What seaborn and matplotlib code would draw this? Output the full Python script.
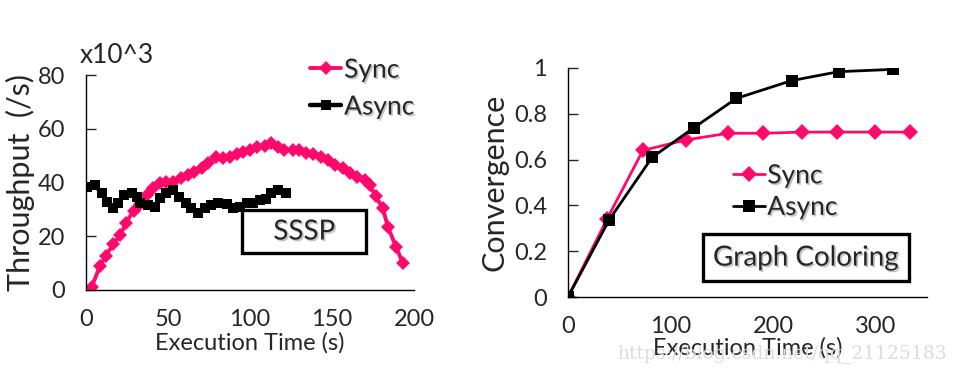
import numpy as np
import pandas as pd
import matplotlib
matplotlib.use('Agg')
import matplotlib.pyplot as plt
import matplotlib.patheffects as pe
from matplotlib.patches import Rectangle
import seaborn as sns

# SSSP throughput (x10^3 /s)
sssp_sync_t = [3.5, 8.5, 12, 16.6, 21, 24.4, 29, 33, 37, 41, 45, 49, 53, 58, 62, 66, 70.5, 74.5,
               79, 83.6, 87.7, 91.8, 96, 100, 104, 109, 113, 117, 121, 126, 130, 134, 138.5,
               143.5, 147.6, 151.7, 156.8, 160.8, 165, 170, 173, 176.6, 181, 184, 189, 193.3]
sssp_sync_v = [1.2, 8.9, 12.7, 17, 20.5, 25, 29.5, 32, 35.4, 37.8, 39.7, 40.3, 40.3, 41.5, 42.8,
               44, 45.3, 47.1, 49.6, 49, 49.6, 50.5, 51.5, 52.1, 53.1, 53.6, 54.8, 53.3, 52.1,
               52.1, 52.1, 50.9, 50.5, 49.4, 48.4, 46.5, 45.3, 43.4, 42.2, 40.9, 39, 35, 30.4,
               23.6, 16.1, 9.9]
sssp_async_t = [0.8, 5.5, 9.5, 13, 16.6, 19.7, 23, 27.8, 31, 33, 38, 42, 45, 49, 53, 57, 61, 64,
                68, 72.5, 76.5, 80.6, 85.7, 89.7, 94, 98, 102, 106, 110, 113, 117, 122]
sssp_async_v = [38.5, 39.1, 36, 32.9, 30.4, 32.3, 35.4, 36, 34.7, 32.3, 31.6, 31, 34.1, 36, 37.2,
                34.7, 32.5, 30.4, 28.8, 30.4, 31.6, 32.3, 32, 30.4, 31, 32.3, 32.3, 33.5, 33.7,
                36, 37.2, 36]

# Graph coloring convergence
gc_sync_t = [0, 38, 73, 115, 156, 190, 228, 262, 299, 333]
gc_sync_v = [0, 0.34, 0.64, 0.686, 0.715, 0.715, 0.72, 0.72, 0.72, 0.72]
gc_async_t = [0, 40, 82, 123, 164, 218, 264, 317]
gc_async_v = [0, 0.336, 0.61, 0.74, 0.867, 0.945, 0.984, 0.994]

PINK = '#ff0a6c'
BLACK = '#000000'

sns.set_style('white')
plt.rcParams['font.family'] = ['Lato', 'DejaVu Sans']

shadow = [pe.withSimplePatchShadow(offset=(1.2, -1.2), shadow_rgbFace='#888888', alpha=0.5)]

fig = plt.figure(figsize=(9.58, 3.74), dpi=100)
ax1 = fig.add_axes([86/958, 1-290/374, 328/958, 215/374])
ax2 = fig.add_axes([568/958, 1-297/374, 359/958, 229/374])

# left panel
sns.lineplot(x=sssp_sync_t, y=sssp_sync_v, ax=ax1, color=PINK, marker='D', markersize=7,
             markeredgewidth=0, linewidth=2.8, label='Sync')
sns.lineplot(x=sssp_async_t, y=sssp_async_v, ax=ax1, color=BLACK, marker='s', markersize=7,
             markeredgewidth=0, linewidth=3.2, label='Async')
ax1.set_xlim(0, 200)
ax1.set_ylim(0, 80)
ax1.set_xticks([0, 50, 100, 150, 200])
ax1.set_yticks([0, 20, 40, 60, 80])
ax1.set_xlabel('Execution Time (s)', fontsize=17, labelpad=2)
ax1.set_ylabel('Throughput  (/s)', fontsize=22, labelpad=2)
ax1.text(-0.02, 1.09, 'x10^3', transform=ax1.transAxes, fontsize=19, ha='left', va='center')
ax1.legend(loc='upper left', bbox_to_anchor=(0.65, 1.13), frameon=False, fontsize=19,
           handlelength=1.2, handletextpad=0.1, labelspacing=0.45, borderaxespad=0)
ax1.add_patch(Rectangle((0.476, 0.172), 0.378, 0.2, transform=ax1.transAxes,
                        fc='white', ec='black', lw=2.4, zorder=5))
ax1.text(0.665, 0.272, 'SSSP', transform=ax1.transAxes, fontsize=20, ha='center',
         va='center', path_effects=shadow, zorder=6)

# right panel
sns.lineplot(x=gc_sync_t, y=gc_sync_v, ax=ax2, color=PINK, marker='D', markersize=8,
             markeredgewidth=0, linewidth=2, label='Sync')
sns.lineplot(x=gc_async_t, y=gc_async_v, ax=ax2, color=BLACK, marker='s', markersize=8,
             markeredgewidth=0, linewidth=2, label='Async')
ax2.set_xlim(0, 350)
ax2.set_ylim(0, 1)
ax2.set_xticks([0, 100, 200, 300])
ax2.set_yticks([0, 0.2, 0.4, 0.6, 0.8, 1.0])
ax2.set_yticklabels(['0', '0.2', '0.4', '0.6', '0.8', '1'])
ax2.set_xlabel('Execution Time (s)', fontsize=17, labelpad=0)
ax2.set_ylabel('Convergence', fontsize=22, labelpad=4)
ax2.legend(loc='upper left', bbox_to_anchor=(0.43, 0.63), frameon=False, fontsize=19,
           handlelength=1.2, handletextpad=0.1, labelspacing=0.25, borderaxespad=0)
ax2.add_patch(Rectangle((0.376, 0.07), 0.574, 0.205, transform=ax2.transAxes,
                        fc='white', ec='black', lw=2.4, zorder=5))
ax2.text(0.663, 0.172, 'Graph Coloring', transform=ax2.transAxes, fontsize=20, ha='center',
         va='center', path_effects=shadow, zorder=6)

for ax in (ax1, ax2):
    sns.despine(ax=ax)
    ax.spines['left'].set_color('black')
    ax.spines['bottom'].set_color('black')
    ax.spines['left'].set_linewidth(1)
    ax.spines['bottom'].set_linewidth(1)
    ax.tick_params(axis='y', direction='in', length=7, width=1, left=True, labelsize=17, pad=15)
    ax.tick_params(axis='x', bottom=False, labelsize=17, pad=10)
    for t in ax.legend_.get_texts():
        t.set_path_effects(shadow)

fig.text(617/958, 1-354/374, 'https://blog.csdn.net/qq_21125183', fontsize=13.5,
         family='DejaVu Serif', color='#dcdcdc', va='center', ha='left', zorder=0)

fig.savefig('out.png', dpi=100)
